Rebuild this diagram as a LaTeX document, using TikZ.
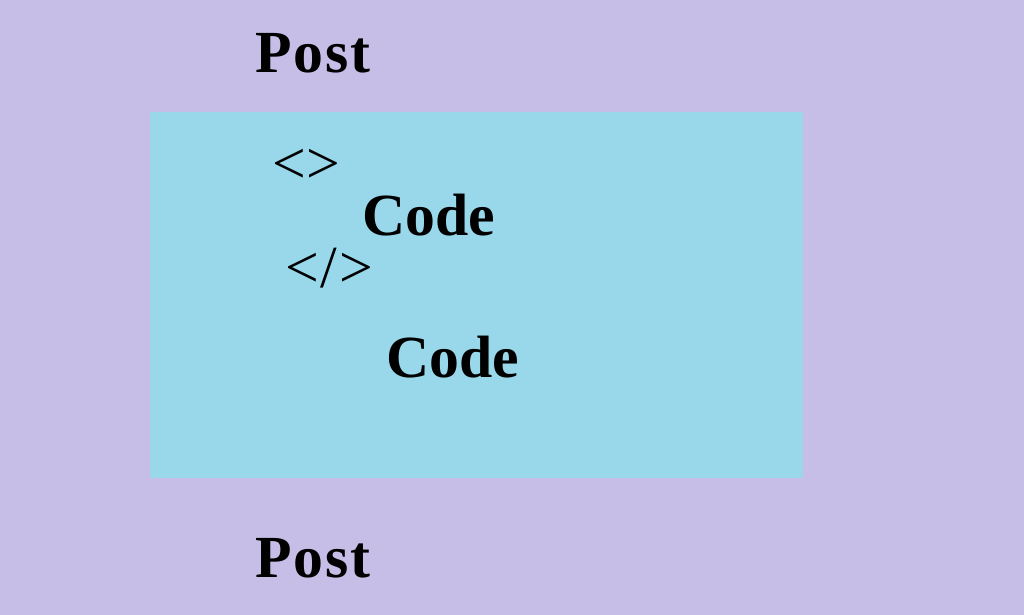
\documentclass[tikz,border=0pt]{standalone}
\usepackage{fontspec}
\setmainfont{Liberation Serif}
\definecolor{lavender}{RGB}{198,190,230}
\definecolor{skyblue}{RGB}{152,216,234}
\begin{document}
\begin{tikzpicture}[x=0.02cm,y=-0.02cm,
  word/.style={anchor=base west,inner sep=0pt,font=\fontsize{34}{40}\selectfont\bfseries},
  tag/.style={anchor=base west,inner sep=0pt,font=\fontsize{34}{40}\selectfont}]
\fill[lavender] (0,0) rectangle (1024,615);
\fill[skyblue] (150,112) rectangle (803,478);
\node[word] (posttop) at (255,72) {P\kern1pt o\kern1pt s\kern1pt t};
\node[tag] (opentag) at (272,183) {<>};
\node[word] (codeone) at (362,235) {Code};
\node[tag] (closetag) at (285,287) {<\kern1pt/\kern1pt>};
\node[word] (codetwo) at (386,377) {Code};
\node[word] (postbot) at (255,577) {P\kern1pt o\kern1pt s\kern1pt t};
\end{tikzpicture}
\end{document}
